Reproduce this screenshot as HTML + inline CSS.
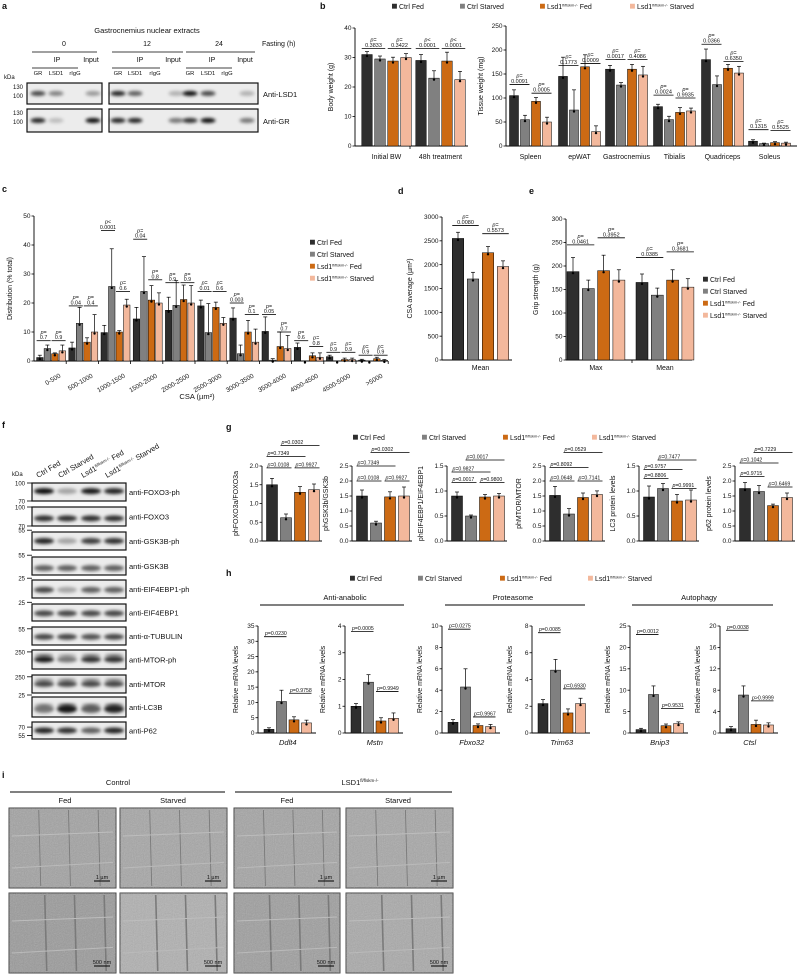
<!DOCTYPE html>
<html><head><meta charset="utf-8">
<style>
html,body{margin:0;padding:0;background:#fff;}
svg{display:block;font-family:"Liberation Sans",Arial,sans-serif;}
text{fill:#111;}
</style></head>
<body>
<svg id="fig" xmlns="http://www.w3.org/2000/svg" width="800" height="974" viewBox="0 0 800 974">
<defs>
<filter id="blur" x="-50%" y="-100%" width="200%" height="300%"><feGaussianBlur stdDeviation="1.6"/></filter>
<filter id="noise" x="0" y="0" width="100%" height="100%"><feTurbulence type="fractalNoise" baseFrequency="0.9" numOctaves="2" seed="3"/><feColorMatrix type="saturate" values="0"/><feComponentTransfer><feFuncA type="linear" slope="0.35"/></feComponentTransfer></filter>
</defs>
<g font-weight="bold" font-size="9">
<text x="2" y="9">a</text>
<text x="320" y="9">b</text>
<text x="2" y="192">c</text>
<text x="398" y="194">d</text>
<text x="529" y="194">e</text>
<text x="2" y="428">f</text>
<text x="226" y="430">g</text>
<text x="226" y="576">h</text>
<text x="2" y="778">i</text>
</g>
<g id="root"></g>
</svg>
<script>
// ---------- DATA ----------
const seriesNames = ['Ctrl Fed','Ctrl Starved','Lsd1 Fed','Lsd1 Starved'];
const colors = ['#2e2e2e','#808080','#cc6a14','#f3b89c'];

// b body weight
const bwGroups = ['Initial BW','48h treatment'];
const bwValues = [[31,29.5,28.8,30],[29,23,28.8,22.5]];
const bwErr = [[1,1,1.3,1.3],[2,2.5,3,2.8]];
const bwP = [[0,0,1,33,'0.3833','p='],[0,2,3,33,'0.3422','p='],[1,0,1,33,'0.0001','p<'],[1,2,3,33,'0.0001','p<']];
// b tissue weight
const twGroups = ['Spleen','epWAT','Gastrocnemius','Tibialis','Quadriceps','Soleus'];
const twValues = [[105,55,93,50],[145,75,165,30],[160,127,160,148],[82,55,70,73],[180,128,162,152],[10,5,7,6]];
const twErr = [[12,9,8,10],[40,42,25,12],[8,5,10,18],[5,7,10,6],[22,18,8,14],[3,1,2,2]];
const twP = [[0,0,1,128,'0.0091'],[0,2,3,110,'0.0005'],[1,0,1,168,'0.1773'],[1,2,3,172,'0.0009'],[2,0,1,180,'0.0017'],[2,2,3,180,'0.4086'],[3,0,1,106,'0.0024'],[3,2,3,100,'0.9935'],[4,0,1,212,'0.0366'],[4,2,3,176,'0.6350'],[5,0,1,34,'0.1315'],[5,2,3,32,'0.5525']];
// c distribution
const csaBins = ['0-500','500-1000','1000-1500','1500-2000','2000-2500','2500-3000','3000-3500','3500-4000','4000-4500','4500-5000','>5000'];
const csaValues = [[1.2,4.3,2.5,3.5],[4.5,13,6.5,10],[9.8,25.7,10,19.3],[14.5,24,21,20],[17.5,19.2,21.2,20],[19,9.8,18.5,13],[14.8,2.5,10,6.5],[10.2,0.3,5,4.3],[4.7,0,1.8,1.3],[1.5,0,0.5,0.5],[0.3,0,0.8,0.2]];
const csaErr = [[0.8,1.2,0.3,2],[2,5.5,1.5,6],[2.5,13,0.5,2],[4,12,5,3.5],[4.5,8.5,5,6],[2,10,1.8,2],[3.5,3,4,4.5],[5,0.5,5,4.5],[1.5,0,1,1.5],[0.5,0,0.5,0.5],[0.3,0,0.5,0.3]];
const csaP = [[0,0,1,7,'0.7'],[0,2,3,7,'0.9'],[1,0,1,19,'0.04'],[1,2,3,19,'0.4'],[2,0,1,45,'0.0001','p<'],[2,2,3,24,'0.6'],[3,0,1,42,'0.04'],[3,2,3,28,'0.8'],[4,0,1,27,'0.9'],[4,2,3,27,'0.9'],[5,0,1,24,'0.01'],[5,2,3,24,'0.6'],[6,0,1,20,'0.003'],[6,2,3,16,'0.1'],[7,0,1,16,'0.05'],[7,2,3,10,'0.7'],[8,0,1,7,'0.6'],[8,2,3,5,'0.8'],[9,0,1,3,'0.9'],[9,2,3,3,'0.9'],[10,0,1,2,'0.9'],[10,2,3,2,'0.9']];
// d
const dGroups = ['Mean'];
const dValues = [[2550,1700,2250,1960]];
const dErr = [[130,140,130,120]];
const dP = [[0,0,1,2820,'0.0080'],[0,2,3,2650,'0.5573']];
// e
const eGroups = ['Max','Mean'];
const eValues = [[188,152,190,170],[165,138,170,155]];
const eErr = [[30,18,33,22],[18,15,22,18]];
const eP = [[0,0,1,245,'0.0461'],[0,2,3,260,'0.3952'],[1,0,1,218,'0.0385'],[1,2,3,230,'0.3681']];
// g
const gLabels = ['phFOXO3a/FOXO3a','phGSK3b/GSK3b','phEIF4EBP1/EIF4EBP1','phMTOR/MTOR','LC3 protein levels','p62 protein levels'];
const gMax = [2.0,2.5,1.5,2.5,1.5,2.5];
const gValues = [[1.5,0.62,1.3,1.37],[1.5,0.6,1.47,1.5],[0.9,0.5,0.88,0.9],[1.52,0.9,1.45,1.55],[0.88,1.05,0.8,0.82],[1.75,1.65,1.18,1.45]];
const gErr = [[0.17,0.1,0.15,0.15],[0.2,0.06,0.17,0.3],[0.08,0.02,0.05,0.05],[0.3,0.18,0.15,0.12],[0.22,0.1,0.13,0.2],[0.2,0.2,0.05,0.15]];
const gP = [
 [['0.0108',0,1,1.95],['0.9927',2,3,1.95],['0.7349',0,2,2.25],['0.0302',1,3,2.55]],
 [['0.0108',0,1,2.0],['0.9927',2,3,2.0],['0.7349',0,2,2.5],['0.0302',1,3,2.95]],
 [['0.0017',0,1,1.17],['0.9800',2,3,1.17],['0.9827',0,2,1.38],['0.0017',1,3,1.62]],
 [['0.0648',0,1,2.0],['0.7141',2,3,2.0],['0.8092',0,2,2.45],['0.0529',1,3,2.95]],
 [['0.8806',0,1,1.25],['0.9991',2,3,1.05],['0.9757',0,2,1.43],['0.7477',1,3,1.62]],
 [['0.9715',0,1,2.15],['0.6469',2,3,1.8],['0.1042',0,2,2.6],['0.7229',1,3,2.95]]];
// h
const hGenes = ['Ddlt4','Mstn','Fbxo32','Trim63','Bnip3','Ctsl'];
const hMax = [35,4,10,8,25,20];
const hStep = [5,1,2,2,5,4];
const hValues = [[1.2,10.3,4.3,3.3],[1.0,1.9,0.45,0.55],[1.0,4.3,0.7,0.6],[2.2,4.7,1.5,2.2],[0.8,9,1.7,2.2],[0.8,7.1,1.6,1.5]];
const hErr = [[0.5,3.7,1,0.9],[0.1,0.28,0.12,0.2],[0.25,1.7,0.15,0.2],[0.3,0.8,0.3,0.4],[0.3,2,0.4,0.4],[0.4,1.7,0.8,0.4]];
const hP = [[['0.0230',0,1,31.5],['0.9758',2,3,13]],[['0.0005',0,1,3.8],['0.9949',2,3,1.55]],[['0.0275',0,1,9.7],['0.9967',2,3,1.5]],[['0.0085',0,1,7.5],['0.6930',2,3,3.3]],[['0.0012',0,1,23],['0.9531',2,3,5.7]],[['0.0038',0,1,19.2],['>0.9999',2,3,6]]];

// ---------- HELPERS ----------
const NS='http://www.w3.org/2000/svg';
const root=document.getElementById('root');
function mk(tag,attrs,parent,name,inter){
  const e=document.createElementNS(NS,tag);
  for(const k in attrs) e.setAttribute(k,attrs[k]);
  
  
  (parent||root).appendChild(e);return e;
}
function txt(x,y,s,size,name,opts){
  opts=opts||{};
  const t=mk('text',{x:x,y:y,'font-size':size,'text-anchor':opts.anchor||'start'},opts.parent,name,false);
  if(opts.italic) t.setAttribute('font-style','italic');
  if(opts.rot!==undefined) t.setAttribute('transform','rotate('+opts.rot+' '+x+' '+y+')');
  if(opts.fill) t.setAttribute('fill',opts.fill);
  if(opts.bold) t.setAttribute('font-weight','bold');
  t.textContent=s;return t;
}
function line(x1,y1,x2,y2,name,w,parent,col){return mk('line',{x1:x1,y1:y1,x2:x2,y2:y2,stroke:col||'#000','stroke-width':w||0.8},parent,name,false);}
function lsdLabel(x,y,size,name,rest,parent){
  const t=mk('text',{x:x,y:y,'font-size':size},parent,name,false);
  t.appendChild(document.createTextNode('Lsd1'));
  const s=document.createElementNS(NS,'tspan');s.setAttribute('font-size',size*0.55);s.setAttribute('dy',-size*0.35);s.textContent='fl/flskm-/-';t.appendChild(s);
  const r=document.createElementNS(NS,'tspan');r.setAttribute('dy',size*0.35);r.textContent=' '+rest;t.appendChild(r);
  return t;
}
function legend(x0,y,dx,size,name,vertical){
  const g=mk('g',{},root,name,false);
  for(let i=0;i<4;i++){
    const x=vertical?x0:x0+dx[i], yy=vertical?y+i*dx:y;
    mk('rect',{x:x,y:yy-size*0.75,width:size*0.7,height:size*0.7,fill:colors[i]},g,'legend-swatch-'+(i+1),false);
    if(i<2) txt(x+size,yy,seriesNames[i],size,'legend-entry-'+(i+1),{parent:g});
    else lsdLabel(x+size,yy,size,'legend-entry-'+(i+1),i==2?'Fed':'Starved',g);
  }
}
function chart(c){
  const g=mk('g',{},root,c.name,false);
  const ys=v=>c.y0-v/c.max*(c.y0-c.yTop);
  line(c.ax,c.y0,c.ax,c.yTop,c.name+'-y-axis',0.9,g);
  line(c.ax,c.y0,c.axEnd,c.y0,c.name+'-x-axis',0.9,g);
  for(let i=0;i<c.ticks.length;i++){
    const v=c.ticks[i],yy=ys(v);
    line(c.ax-2.5,yy,c.ax,yy,c.name+'-tick',0.8,g);
    txt(c.ax-3.5,yy+2.2,c.tickFmt?v.toFixed(c.tickFmt):String(v),c.tsize||6.5,c.name+'-tick-label',{anchor:'end',parent:g});
  }
  if(c.ylabel) txt(c.ylabelX,(c.y0+c.yTop)/2,c.ylabel,c.ysize||7,c.name+'-y-title',{anchor:'middle',rot:-90,parent:g});
  (c.breaks||[]).forEach(bx=>line(bx,c.y0,bx,c.y0+3,c.name+'-x-tick',0.8,g));
  c.values.forEach((vals,gi)=>{
    vals.forEach((v,k)=>{
      const cx=c.gx[gi]+k*c.step;
      const y=ys(v);
      mk('rect',{x:cx-c.bw/2,y:y,width:c.bw,height:Math.max(0,c.y0-y),fill:colors[k],stroke:'#000','stroke-width':0.5},g,c.name+'-bar-'+(gi+1)+'-'+(k+1),false);
      const e=c.errs[gi][k];
      if(e>0){const ye=ys(v+e);line(cx,y,cx,ye,c.name+'-error-bar',0.7,g);line(cx-2,ye,cx+2,ye,c.name+'-error-cap',0.7,g);}
      mk('circle',{cx:cx,cy:y+1.5,r:1.2,fill:'#000'},g,c.name+'-point',false);
    });
    if(c.glabels){
      const mid=c.gx[gi]+1.5*c.step;
      if(c.rotLabels) txt(mid+10,c.labelY,c.glabels[gi],c.lsize||6.5,c.name+'-category-label',{anchor:'end',rot:-30,parent:g});
      else txt(mid,c.labelY,c.glabels[gi],c.lsize||7,c.name+'-category-label',{anchor:'middle',italic:c.italic,parent:g});
    }
  });
  (c.pv||[]).forEach(p=>{
    let gi,a,b,lv,s,pre;
    if(c.pStyle==='inline'){[s,a,b,lv]=p;gi=0;}else{[gi,a,b,lv,s,pre]=p;}
    const x1=c.gx[gi]+a*c.step-c.bw/2, x2=c.gx[gi]+b*c.step+c.bw/2, yy=ys(lv);
    line(x1,yy,x2,yy,c.name+'-sig-bracket',0.8,g);
    const ps=c.psize||5.5;
    if(c.pStyle==='inline'){
      const t=txt(x1+1,yy-1.5,'',ps,c.name+'-p-value',{parent:g});
      const i1=document.createElementNS(NS,'tspan');i1.setAttribute('font-style','italic');i1.textContent='p';t.appendChild(i1);
      t.appendChild(document.createTextNode((s[0]==='>'?'':'=')+s));
    } else {
      txt((x1+x2)/2,yy-1.5,s,ps,c.name+'-p-value',{anchor:'middle',parent:g});
      txt((x1+x2)/2,yy-1.5-ps,pre||'p=',ps,c.name+'-p-label',{anchor:'middle',italic:true,parent:g});
    }
  });
  return g;
}
function rng(max,step){const a=[];for(let v=0;v<=max+1e-9;v+=step)a.push(+v.toFixed(2));return a;}

// ---------- PANEL A ----------
txt(147,33,'Gastrocnemius nuclear extracts',7.5,'a-title',{anchor:'middle'});
[[64,'0',32,97],[147,'12',112,183],[219,'24',186,255]].forEach(d=>{txt(d[0],46,d[1],7,'fasting-time-label',{anchor:'middle'});line(d[2],52,d[3],52,'fasting-group-line',0.8);});
txt(262,46,'Fasting (h)',7,'fasting-label');
[[57,91,32,78],[140,173,112,160],[212,245,186,232]].forEach(d=>{txt(d[0],62,'IP',7,'ip-label',{anchor:'middle'});txt(d[1],62,'Input',7,'input-label',{anchor:'middle'});line(d[2],68,d[3],68,'ip-line',0.8);});
const aLanes=[38,56,75,93,118,135,155,176,190,208,227,247];
const aLaneNames=['GR','LSD1','rIgG'];
[0,4,8].forEach(o=>{for(let i=0;i<3;i++)txt(aLanes[o+i],75,aLaneNames[i],5.8,'lane-label',{anchor:'middle'});});
txt(4,79,'kDa',6,'kda-label');
const aLsd1=[0.7,0.45,0,0.35,0.85,0.6,0,0.25,0.95,0.7,0,0.25];
const aGR=[0.85,0.2,0,0.95,0.85,0.85,0,0.5,0.8,0.95,0,0.5];
function blotBox(x,y,w,h,name){return mk('rect',{x:x,y:y,width:w,height:h,fill:'#ececec',stroke:'#111','stroke-width':1.2},root,name,false);}
function band(cx,cy,w,h,op,name){mk('ellipse',{cx:cx,cy:cy,rx:w/2,ry:h/2,fill:'#000','fill-opacity':op,filter:'url(#blur)'},root,name,false);}
[[83,104,aLsd1,'blot-anti-lsd1'],[109,132,aGR,'blot-anti-gr']].forEach(r=>{
  blotBox(27,r[0],75,r[1]-r[0],r[3]+'-0h');blotBox(109,r[0],149,r[1]-r[0],r[3]+'-12-24h');
  r[2].forEach((v,i)=>{if(v>0)band(aLanes[i],(r[0]+r[1])/2,15,5,v,'band');});
});
txt(13,89,'130',6,'mw-label');txt(13,98,'100',6,'mw-label');txt(13,115,'130',6,'mw-label');txt(13,124,'100',6,'mw-label');
txt(263,97,'Anti-LSD1',7.5,'blot-label-lsd1');txt(263,124,'Anti-GR',7.5,'blot-label-gr');

// ---------- PANEL B ----------
legend(392,9,[0,68,148,238],7,'b-legend',false);
chart({name:'body-weight-chart',ax:355,axEnd:468,y0:146,yTop:28,max:40,ticks:rng(40,10),gx:[367,421],step:13,bw:10.5,values:bwValues,errs:bwErr,glabels:bwGroups,labelY:159,ylabel:'Body weight (g)',ylabelX:333,breaks:[410],pv:bwP});
chart({name:'tissue-weight-chart',ax:506,axEnd:797,y0:146,yTop:26,max:250,ticks:rng(250,50),gx:[514,563,610,658,706,753],step:11,bw:9,values:twValues,errs:twErr,glabels:twGroups,labelY:159,ylabel:'Tissue weight (mg)',ylabelX:483,pv:twP});

// ---------- PANEL C ----------
const cgx=csaBins.map((_,i)=>34+32.2*(i+0.5)-11.25+1);
chart({name:'csa-distribution-chart',ax:34,axEnd:388,y0:361,yTop:216,max:50,ticks:rng(50,10),gx:cgx,step:7.5,bw:6.5,values:csaValues,errs:csaErr,glabels:csaBins,labelY:377,rotLabels:true,ylabel:'Distribution (% total)',ylabelX:12,breaks:csaBins.map((_,i)=>34+32.2*(i+1)),pv:csaP,psize:5.3});
txt(197,399,'CSA (µm²)',7.5,'c-x-title',{anchor:'middle'});
legend(310,245,12,7,'c-legend',true);

// ---------- PANEL D / E ----------
chart({name:'csa-average-chart',ax:442,axEnd:512,y0:360,yTop:217,max:3000,ticks:rng(3000,500),gx:[458],step:15,bw:11.5,values:dValues,errs:dErr,glabels:dGroups,labelY:370,ylabel:'CSA average (µm²)',ylabelX:412,pv:dP});
chart({name:'grip-strength-chart',ax:566,axEnd:692,y0:360,yTop:219,max:300,ticks:rng(300,50),gx:[573,642],step:15.3,bw:12,values:eValues,errs:eErr,glabels:eGroups,labelY:370,ylabel:'Grip strength (g)',ylabelX:538,breaks:[632],pv:eP});
legend(703,282,12,7,'e-legend',true);

// ---------- PANEL F ----------
const fRows=[[483,501],[507,526],[532,550],[557,575],[580,598],[604,621],[627,645],[650,669],[675,693],[697,717],[722,739]];
const fNames=['anti-FOXO3-ph','anti-FOXO3','anti-GSK3B-ph','anti-GSK3B','anti-EIF4EBP1-ph','anti-EIF4EBP1','anti-α-TUBULIN','anti-MTOR-ph','anti-MTOR','anti-LC3B','anti-P62'];
const fInt=[[0.95,0.3,0.9,0.85],[0.8,0.8,0.8,0.8],[0.85,0.3,0.75,0.8],[0.6,0.6,0.6,0.6],[0.7,0.3,0.6,0.6],[0.7,0.7,0.7,0.7],[0.7,0.7,0.65,0.7],[0.9,0.5,0.8,0.8],[0.7,0.7,0.7,0.7],[0.5,0.9,0.6,0.85],[0.85,0.8,0.6,0.85]];
const fBandPos=[0.45,0.6,0.5,0.62,0.55,0.55,0.55,0.5,0.5,0.6,0.5];
const fMW=[[['100',0],['70',1]],[['100',0],['70',1]],[['55',-0.1]],[['55',-0.1]],[['25',-0.1]],[['25',-0.1]],[['55',0.1]],[['250',0.1]],[['250',0.1]],[['25',-0.1]],[['70',0.3],['55',0.8]]];
const fLanes=[44,67,91,114];
txt(12,476,'kDa',6,'f-kda-label');
fRows.forEach((r,i)=>{
  blotBox(32,r[0],94,r[1]-r[0],'blot-'+fNames[i]);
  const cy=r[0]+(r[1]-r[0])*fBandPos[i];
  fInt[i].forEach((v,k)=>{band(fLanes[k],cy,20,(i===9?8:6),v,'band');if(i===7||i===8||i===9)band(fLanes[k],cy-4,19,3,v*0.6,'band');});
  txt(129,(r[0]+r[1])/2+3,fNames[i],7.5,'blot-label');
  fMW[i].forEach(m=>{const yy=r[0]+(r[1]-r[0])*m[1];txt(25,yy+2.5,m[0],6,'mw-label',{anchor:'end'});line(27,yy,32,yy,'mw-tick',0.8);});
});
txt(38,478,'Ctrl Fed',7.5,'f-lane-label-1',{rot:-30});
txt(60,478,'Ctrl Starved',7.5,'f-lane-label-2',{rot:-30});
(function(){const t=lsdLabel(83,478,7.5,'f-lane-label-3','Fed');t.setAttribute('transform','rotate(-30 83 478)');const u=lsdLabel(107,478,7.5,'f-lane-label-4','Starved');u.setAttribute('transform','rotate(-30 107 478)');})();

// ---------- PANEL G ----------
legend(353,440,[0,69,150,239],7,'g-legend',false);
const gAx=[262,352,447,545,639,735];
gValues.forEach((vals,i)=>{
  chart({name:'g-chart-'+(i+1),ax:gAx[i],axEnd:gAx[i]+60,y0:541,yTop:466,max:gMax[i],ticks:rng(gMax[i],0.5),tickFmt:1,gx:[gAx[i]+10],step:14,bw:11,values:[vals],errs:[gErr[i]],ylabel:gLabels[i],ylabelX:gAx[i]-24,ysize:7,pv:gP[i],pStyle:'inline',psize:5.2});
});

// ---------- PANEL H ----------
legend(350,581,[0,68,150,238],7,'h-legend',false);
[['Anti-anabolic',345,260,404],['Proteasome',513,445,585],['Autophagy',699,632,773]].forEach(d=>{txt(d[1],600,d[0],7.5,'h-group-title',{anchor:'middle'});line(d[2],605,d[3],605,'h-group-line',0.9);});
const hAx=[258,345,442,532,630,720];
hValues.forEach((vals,i)=>{
  chart({name:'h-chart-'+hGenes[i].toLowerCase(),ax:hAx[i],axEnd:hAx[i]+58,y0:733,yTop:626,max:hMax[i],ticks:rng(hMax[i],hStep[i]),gx:[hAx[i]+11],step:12.5,bw:10,values:[vals],errs:[hErr[i]],glabels:[hGenes[i]],italic:true,labelY:745,lsize:7.5,ylabel:'Relative mRNA levels',ylabelX:hAx[i]-20,ysize:7,pv:hP[i],pStyle:'inline',psize:5.2});
});

// ---------- PANEL I (EM) ----------
txt(118,785,'Control',7.5,'i-control-title',{anchor:'middle'});line(10,792,225,792,'i-control-line',0.9);
(function(){const t=mk('text',{x:360,y:785,'font-size':7.5,'text-anchor':'middle'},root,'i-lsd1-title',false);t.appendChild(document.createTextNode('LSD1'));const s=document.createElementNS(NS,'tspan');s.setAttribute('font-size',4.5);s.setAttribute('dy',-3);s.textContent='fl/flskm-/-';t.appendChild(s);})();
line(235,792,452,792,'i-lsd1-line',0.9);
[['Fed',65],['Starved',173],['Fed',287],['Starved',398]].forEach(d=>txt(d[1],803,d[0],7.5,'i-condition-label',{anchor:'middle'}));
const emX=[[9,116],[120,227],[234,340],[346,453]];
const emRows=[[808,888],[893,973]];
const emShade=[['#a2a2a2','#a6a6a6','#a4a4a4','#a7a7a7'],['#9a9a9a','#b0b0b0','#9e9e9e','#a9a9a9']];
emRows.forEach((r,ri)=>emX.forEach((p,pi)=>{
  const w=p[1]-p[0],h=r[1]-r[0];
  mk('rect',{x:p[0],y:r[0],width:w,height:h,fill:emShade[ri][pi],stroke:'#444','stroke-width':1},root,'em-image-'+(ri+1)+'-'+(pi+1),false);
  mk('rect',{x:p[0],y:r[0],width:w,height:h,filter:'url(#noise)'},root,'em-texture',false);
  for(let k=1;k<4;k++){const xx=p[0]+w*k/3.6+(ri*6);line(xx,r[0]+2,xx+2,r[1]-2,'z-disk-line',ri?1.6:0.9,null,'#7a7a7a');}
  line(p[0]+3,r[0]+h*0.35,p[1]-3,r[0]+h*0.3,'em-streak',1,null,'#bdbdbd');
  line(p[0]+3,r[0]+h*0.75,p[1]-3,r[0]+h*0.68,'em-streak',1,null,'#bababa');
  line(p[1]-22,r[1]-7,p[1]-6,r[1]-7,'scale-bar',1);
  txt(p[1]-14,r[1]-9,ri?'500 nm':'1 µm',5.5,'scale-bar-label',{anchor:'middle'});
}));
</script>
</body></html>
